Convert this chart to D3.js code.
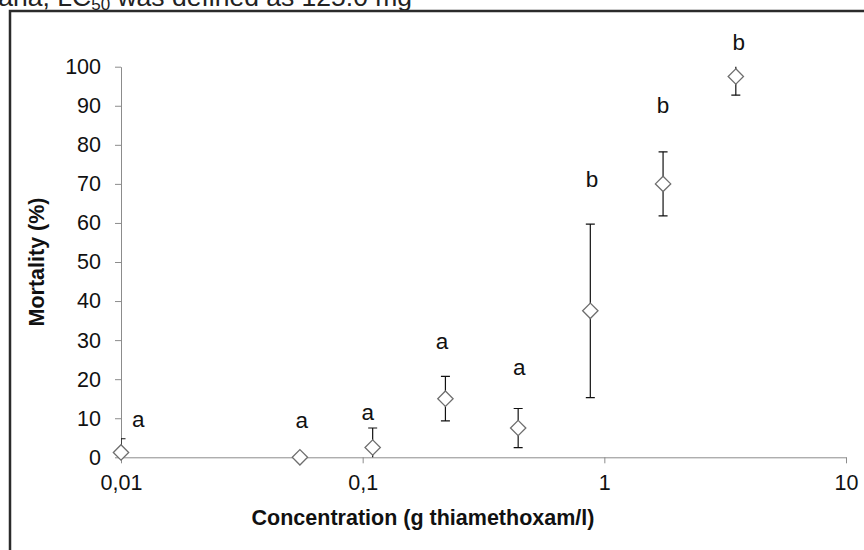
<!DOCTYPE html>
<html>
<head>
<meta charset="utf-8">
<script src="https://cdn.jsdelivr.net/npm/d3@7"></script>
<style>
  body { margin: 0; background: #fff; }
  svg { display: block; }
  text { font-family: "Liberation Sans", Arial, sans-serif; }
</style>
</head>
<body>
<div id="chart"></div>
<script>
// concentration (g thiamethoxam/l), mean mortality (%), standard error
const concentrations = [0.01, 0.055, 0.11, 0.22, 0.44, 0.875, 1.75, 3.5];
const mortality = [1.25, 0, 2.5, 15, 7.5, 37.5, 70, 97.5];
const errors = [3.5, 0, 5, 5.7, 5, 22.2, 8.2, 4.8];

// significance letters and where they sit (concentration, mortality)
const letters = ["a", "a", "a", "a", "a", "b", "b", "b"];
const letterConc = [0.0118, 0.056, 0.105, 0.213, 0.445, 0.89, 1.75, 3.6];
const letterY = [9.8, 9.4, 11.6, 29.8, 23.2, 71.2, 90.1, 106.4];

const yTicks = d3.range(0, 101, 10);
const xTicks = [0.01, 0.1, 1, 10];

const width = 864, height = 550;
const margin = { left: 121, right: 18, top: 66.7, bottom: 92.7 };

const svg = d3.select("#chart").append("svg")
  .attr("width", width)
  .attr("height", height);

// caption fragment from the page above the figure
const caption = svg.append("text")
  .attr("x", -9)
  .attr("y", 6)
  .attr("font-family", "Liberation Serif, Times New Roman, serif")
  .attr("font-size", 26.5)
  .attr("fill", "#222");
caption.append("tspan").text("tana, LC");
caption.append("tspan").attr("font-size", 17).attr("dy", 4).text("50");
caption.append("tspan").attr("dy", -4).text(" was defined as 125.0 mg");

// outer frame of the figure
svg.append("rect")
  .attr("x", 10)
  .attr("y", 11)
  .attr("width", 900)
  .attr("height", 600)
  .attr("fill", "none")
  .attr("stroke", "#2b2b2b")
  .attr("stroke-width", 2.5);

const x = d3.scaleLog()
  .domain([0.01, 10])
  .range([margin.left, width - margin.right]);

const y = d3.scaleLinear()
  .domain([0, 100])
  .range([height - margin.bottom, margin.top]);

const axisColor = "#8c8c8c";

// y axis
const yAxis = svg.append("g")
  .attr("transform", `translate(${margin.left},0)`)
  .call(d3.axisLeft(y).tickValues(yTicks).tickSize(6).tickPadding(14).tickSizeOuter(0));
yAxis.select(".domain").attr("stroke", axisColor);
yAxis.selectAll(".tick line").attr("stroke", axisColor);
yAxis.selectAll(".tick text")
  .attr("font-size", 21.5)
  .attr("fill", "#111")
  .attr("font-family", "Liberation Sans, Arial, sans-serif");

// x axis
const xAxis = svg.append("g")
  .attr("transform", `translate(0,${y(0)})`)
  .call(d3.axisBottom(x).tickValues(xTicks).tickSize(6).tickPadding(11).tickSizeOuter(0)
    .tickFormat((d) => String(d).replace(".", ",")));
xAxis.select(".domain").attr("stroke", axisColor);
xAxis.selectAll(".tick line").attr("stroke", axisColor);
xAxis.selectAll(".tick text")
  .attr("font-size", 21.5)
  .attr("fill", "#111")
  .attr("font-family", "Liberation Sans, Arial, sans-serif");

// axis titles
svg.append("text")
  .attr("x", 423)
  .attr("y", 525)
  .attr("text-anchor", "middle")
  .attr("font-size", 21.5)
  .attr("font-weight", "bold")
  .attr("fill", "#111")
  .text("Concentration (g thiamethoxam/l)");

svg.append("text")
  .attr("transform", `translate(44,${(y(0) + y(100)) / 2}) rotate(-90)`)
  .attr("text-anchor", "middle")
  .attr("font-size", 21.5)
  .attr("font-weight", "bold")
  .attr("fill", "#111")
  .text("Mortality (%)");

const points = concentrations.map((c, i) => ({
  c, m: mortality[i], e: errors[i]
}));

// error bars are clipped to the plotting area
svg.append("clipPath").attr("id", "plot-clip")
  .append("rect")
  .attr("x", x(0.01))
  .attr("y", y(100))
  .attr("width", x(10) - x(0.01))
  .attr("height", y(0) - y(100));

const bars = svg.append("g")
  .attr("clip-path", "url(#plot-clip)")
  .attr("stroke", "#111")
  .attr("stroke-width", 1.2)
  .selectAll("g")
  .data(points.filter((d) => d.e > 0))
  .join("g");

bars.append("line")
  .attr("x1", (d) => x(d.c))
  .attr("x2", (d) => x(d.c))
  .attr("y1", (d) => y(d.m - d.e))
  .attr("y2", (d) => y(d.m + d.e));

bars.append("line")
  .attr("x1", (d) => x(d.c) - 4.5)
  .attr("x2", (d) => x(d.c) + 4.5)
  .attr("y1", (d) => y(d.m + d.e))
  .attr("y2", (d) => y(d.m + d.e));

bars.append("line")
  .attr("x1", (d) => x(d.c) - 4.5)
  .attr("x2", (d) => x(d.c) + 4.5)
  .attr("y1", (d) => y(d.m - d.e))
  .attr("y2", (d) => y(d.m - d.e));

// diamond markers
const diamond = d3.symbol().type(d3.symbolDiamond2).size(150);
svg.append("g")
  .selectAll("path")
  .data(points)
  .join("path")
  .attr("d", diamond)
  .attr("transform", (d) => `translate(${x(d.c)},${y(d.m)})`)
  .attr("fill", "#fff")
  .attr("stroke", "#6e6e6e")
  .attr("stroke-width", 1.3);

// significance letters
svg.append("g")
  .selectAll("text")
  .data(letters)
  .join("text")
  .attr("x", (d, i) => x(letterConc[i]))
  .attr("y", (d, i) => y(letterY[i]))
  .attr("dy", "0.35em")
  .attr("text-anchor", "middle")
  .attr("font-size", 22.5)
  .attr("fill", "#111")
  .text((d) => d);
</script>
</body>
</html>
